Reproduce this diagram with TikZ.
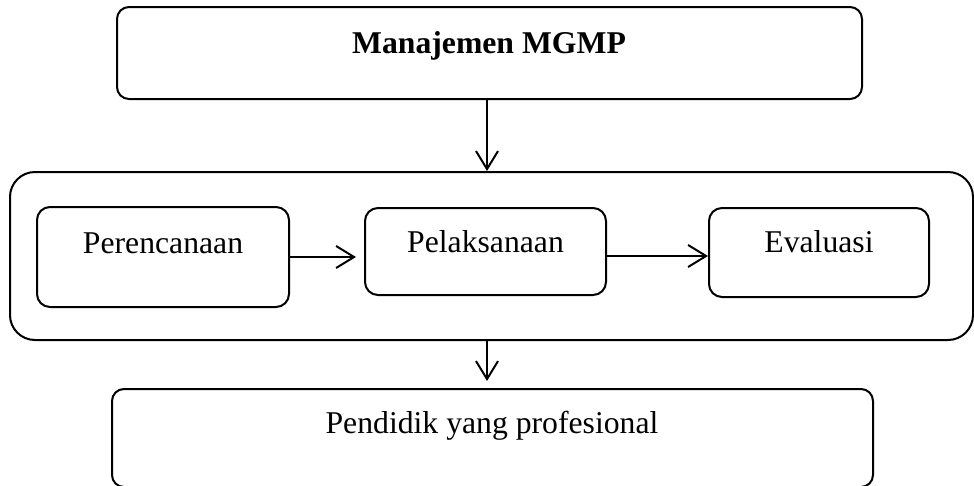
\documentclass[tikz,border=0pt]{standalone}
\usepackage{fontspec}
\setmainfont{Liberation Serif}
\usetikzlibrary{arrows.meta}
\begin{document}
\begin{tikzpicture}[x=1pt,y=-1pt,
  box/.style={draw, line width=2pt, rounded corners=#1, inner sep=0pt},
  box/.default=12pt,
  lbl/.style={anchor=base, inner sep=0pt, font=\fontsize{31.7}{38}\selectfont},
  arr/.style={line width=2pt, -{Straight Barb[length=18pt,width=22pt,line width=2pt]}}]
\useasboundingbox (0,0) rectangle (974,485);

% top level: management
\node[box, minimum width=745pt, minimum height=92pt] (top) at (489.5,53) {};
\node[lbl, font=\fontsize{31.7}{38}\selectfont\bfseries] (ttop) at (489,53) {Manajemen MGMP};

% enclosing process frame
\node[box=25pt, minimum width=963pt, minimum height=168pt] (frame) at (491.5,256) {};

% process stages
\node[box=13pt, minimum width=252pt, minimum height=100pt] (b1) at (163,257) {};
\node[lbl] (t1) at (163,253) {Perencanaan};
\node[box=13pt, minimum width=241pt, minimum height=87pt] (b2) at (485.5,251.5) {};
\node[lbl] (t2) at (485.5,252) {Pelaksanaan};
\node[box=13pt, minimum width=220pt, minimum height=89pt] (b3) at (819,252.5) {};
\node[lbl] (t3) at (819,252) {Evaluasi};

% outcome
\node[box, minimum width=761pt, minimum height=98pt] (bot) at (492.5,438) {};
\node[lbl] (tbot) at (492,433) {Pendidik yang profesional};

% connectors
\coordinate (ax) at (487,0);
\draw[arr] (top.south -| ax) -- (frame.north -| ax);
\draw[arr, shorten >=8pt] (b1.east) -- (b1.east -| b2.west);
\draw[arr] ([yshift=-4.5pt]b2.east) -- ([yshift=-4.5pt]b2.east -| b3.west);
\draw[arr, shorten >=7pt] (frame.south -| ax) -- (bot.north -| ax);
\end{tikzpicture}
\end{document}
